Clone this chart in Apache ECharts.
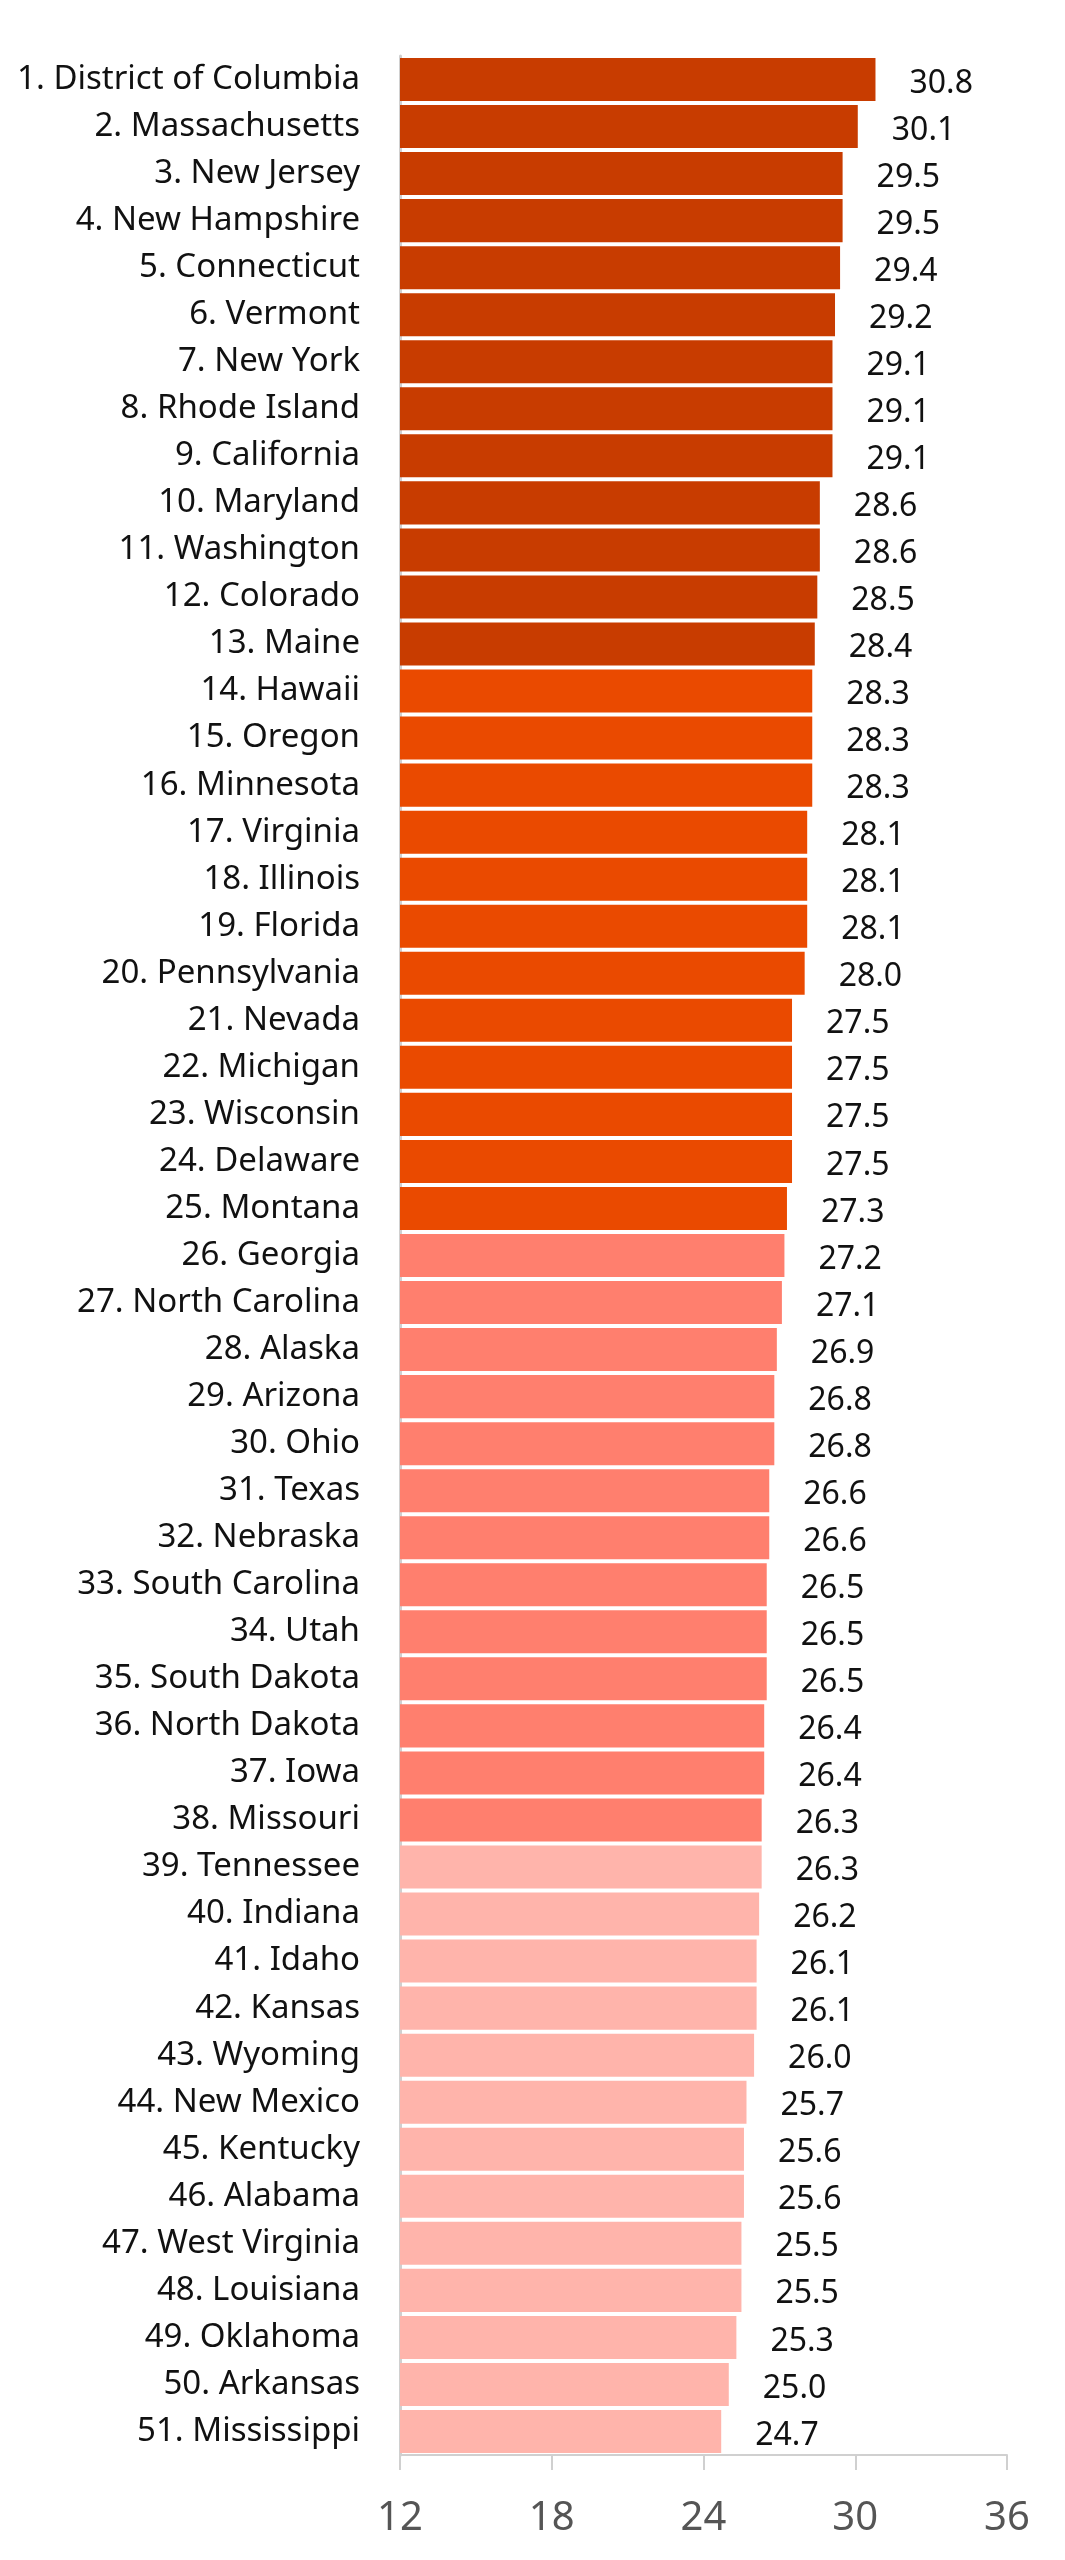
<!DOCTYPE html>
<html>
<head>
<meta charset="utf-8">
<script src="https://cdn.jsdelivr.net/npm/echarts@6/dist/echarts.min.js"></script>
<style>
html,body{margin:0;padding:0;background:#fff;}
#chart{width:1065px;height:2560px;}
</style>
</head>
<body>
<div id="chart"></div>
<script>
const states = ["District of Columbia","Massachusetts","New Jersey","New Hampshire","Connecticut","Vermont","New York","Rhode Island","California","Maryland","Washington","Colorado","Maine","Hawaii","Oregon","Minnesota","Virginia","Illinois","Florida","Pennsylvania","Nevada","Michigan","Wisconsin","Delaware","Montana","Georgia","North Carolina","Alaska","Arizona","Ohio","Texas","Nebraska","South Carolina","Utah","South Dakota","North Dakota","Iowa","Missouri","Tennessee","Indiana","Idaho","Kansas","Wyoming","New Mexico","Kentucky","Alabama","West Virginia","Louisiana","Oklahoma","Arkansas","Mississippi"];
const values = [30.8,30.1,29.5,29.5,29.4,29.2,29.1,29.1,29.1,28.6,28.6,28.5,28.4,28.3,28.3,28.3,28.1,28.1,28.1,28.0,27.5,27.5,27.5,27.5,27.3,27.2,27.1,26.9,26.8,26.8,26.6,26.6,26.5,26.5,26.5,26.4,26.4,26.3,26.3,26.2,26.1,26.1,26.0,25.7,25.6,25.6,25.5,25.5,25.3,25.0,24.7];
const tierColors = ["#C83C00","#EA4A00","#FF7F6E","#FFB4AB"];
const tierEnds = [13,25,38,51];
const axisTicks = [12,18,24,30,36];

const categories = states.map((s,i)=> (i+1) + ". " + s);
function tierColor(i){ for(let t=0;t<tierEnds.length;t++){ if(i < tierEnds[t]) return tierColors[t]; } return tierColors[tierColors.length-1]; }

const chart = echarts.init(document.getElementById('chart'), null, {renderer:'canvas'});
chart.setOption({
  animation:false,
  grid:{left:400,right:58,top:56,bottom:105,containLabel:false},
  xAxis:{
    type:'value', min:axisTicks[0], max:axisTicks[axisTicks.length-1], interval:6,
    splitLine:{show:false},
    axisLine:{show:true,lineStyle:{color:'#d0d0d0',width:2}},
    axisTick:{show:true,length:15,lineStyle:{color:'#d0d0d0',width:2}},
    axisLabel:{color:'#555',fontSize:40,fontFamily:'Noto Sans',margin:44}
  },
  yAxis:{
    type:'category', data:categories, inverse:true,
    axisLine:{show:true,lineStyle:{color:'#d0d0d0',width:3}},
    axisTick:{show:false},
    axisLabel:{color:'#111',fontSize:33,fontFamily:'Noto Sans',margin:40}
  },
  series:[{
    type:'bar',
    data:values.map((v,i)=>({value:v,itemStyle:{color:tierColor(i)}})),
    barCategoryGap:'8.5%',
    label:{show:true,position:'right',distance:34,offset:[0,4],color:'#111',fontSize:32,fontFamily:'Noto Sans',formatter:p=>p.value.toFixed(1)}
  }]
});
</script>
</body>
</html>
